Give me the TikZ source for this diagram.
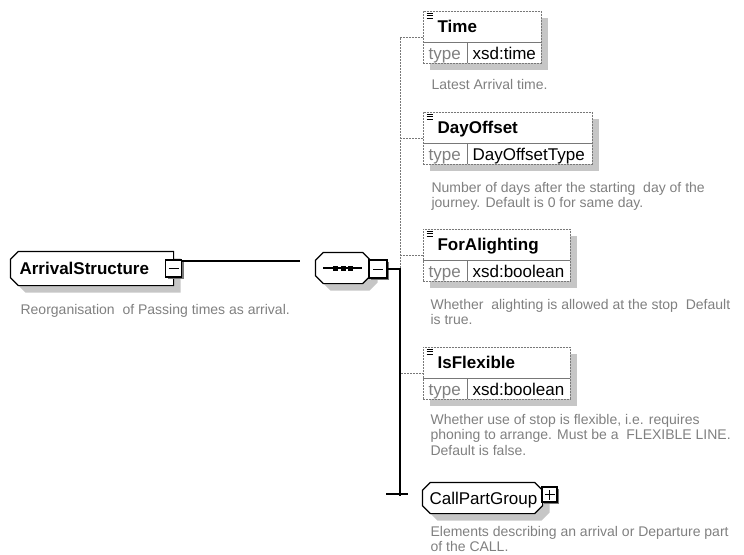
\documentclass[tikz,border=0pt]{standalone}
\usepackage{fontspec}
\setmainfont{Liberation Sans}
\usetikzlibrary{shadows}
\definecolor{boxgray}{RGB}{120,120,120}
\definecolor{txtgray}{RGB}{128,128,128}
\definecolor{shadegray}{RGB}{198,198,198}
\begin{document}
\begin{tikzpicture}[x=1pt,y=-1pt,line width=1.2pt,
 font=\fontsize{17}{20}\selectfont,
 boxshadow/.style={drop shadow={shadow xshift=7pt,shadow yshift=-7pt,fill=shadegray,opacity=1}},
 btnshadow/.style={drop shadow={shadow xshift=2pt,shadow yshift=-2pt,fill=boxgray,opacity=1}},
 area/.style={inner sep=0},
 cplxline/.style={draw,fill=white,boxshadow},
 elem/.style={draw=boxgray,dash pattern=on 2pt off 1pt,line width=.8pt,fill=white,
  inner sep=0,minimum height=52pt,anchor=north west,boxshadow},
 rowline/.style={draw=boxgray,line width=.8pt},
 optline/.style={draw=boxgray,dash pattern=on 2pt off 1pt,line width=.8pt},
 btn/.style={draw,fill=white,inner sep=0,minimum width=16pt,minimum height=17pt,btnshadow},
 hdr/.style={anchor=base west,inner sep=0,font=\bfseries\fontsize{17}{20}\selectfont},
 lbl/.style={anchor=base west,inner sep=0},
 typelbl/.style={anchor=base west,inner sep=0,text=txtgray},
 desc/.style={anchor=north west,inner sep=0,align=left,text=txtgray,
  font=\fontsize{14}{15.5}\selectfont}]
\useasboundingbox (0,0) rectangle (744,554);
% ArrivalStructure
\node[area,minimum width=162pt,minimum height=33pt] (arr) at (92,268.5) {};
\path[cplxline] ([xshift=8pt]arr.north west) -- (arr.north east) -- (arr.south east)
 -- ([xshift=8pt]arr.south west) -- ([yshift=8pt]arr.south west)
 -- ([yshift=-8pt]arr.north west) -- cycle;
\node[hdr] (arrname) at (19,274.6) {ArrivalStructure};
\node[btn] (arrbtn) at (173.5,268.5) {};
\draw[line width=1pt] ([xshift=-5pt]arrbtn.center) -- ([xshift=5pt]arrbtn.center);
\node[desc] (arrdesc) at (20,303.5) {Reorganisation~ of Passing times as arrival.};
\coordinate (arrend) at (300,261);
\draw (arrbtn.east |- arrend) -- (arrend);
% sequence
\node[area,minimum width=54pt,minimum height=30pt] (seq) at (343,268) {};
\path[cplxline] ([xshift=8pt]seq.north west) -- ([xshift=-8pt]seq.north east)
 -- ([yshift=-8pt]seq.north east) -- ([yshift=8pt]seq.south east)
 -- ([xshift=-8pt]seq.south east) -- ([xshift=8pt]seq.south west)
 -- ([yshift=8pt]seq.south west) -- ([yshift=-8pt]seq.north west) -- cycle;
\draw (323,268) -- (362,268);
\fill (333,265.5) rectangle +(5,5);
\fill (340.5,265.5) rectangle +(5,5);
\fill (348,265.5) rectangle +(5,5);
\node[btn,minimum width=18pt,minimum height=18pt] (seqbtn) at (378,269) {};
\draw[line width=1pt] ([xshift=-5pt]seqbtn.center) -- ([xshift=5pt]seqbtn.center);
\coordinate (spine) at (400,269);
\coordinate (spineend) at (400,496);
% Time
\begin{scope}[shift={(423,11)}]
  \node[elem,minimum width=118pt] (time) at (0,0) {};
  \draw[rowline] (0,31) -- (118,31);
  \draw[rowline] (44,31) -- (44,52);
  \draw[line width=1pt] (3.5,2.5) -- (10,2.5) (3.5,4.8) -- (10,4.8) (3.5,7.1) -- (10,7.1);
  \node[hdr] (timename) at (14,21.5) {Time};
  \node[typelbl] (timelbl) at (5,48) {type};
  \node[lbl] (timetype) at (49,48) {xsd:time};
  \node[desc] (timedesc) at (8,67.5) {Latest Arrival time.};
\end{scope}
% DayOffset
\begin{scope}[shift={(423,112)}]
  \node[elem,minimum width=169pt] (day) at (0,0) {};
  \draw[rowline] (0,31) -- (169,31);
  \draw[rowline] (44,31) -- (44,52);
  \draw[line width=1pt] (3.5,2.5) -- (10,2.5) (3.5,4.8) -- (10,4.8) (3.5,7.1) -- (10,7.1);
  \node[hdr] (dayname) at (14,21.5) {DayOffset};
  \node[typelbl] (daylbl) at (5,48) {type};
  \node[lbl] (daytype) at (49,48) {DayOffsetType};
  \node[desc] (daydesc) at (8,69.5) {Number of days after the starting~ day of the\\journey. Default is 0 for same day.};
\end{scope}
% ForAlighting
\begin{scope}[shift={(423,229)}]
  \node[elem,minimum width=147pt] (alight) at (0,0) {};
  \draw[rowline] (0,31) -- (147,31);
  \draw[rowline] (44,31) -- (44,52);
  \draw[line width=1pt] (3.5,2.5) -- (10,2.5) (3.5,4.8) -- (10,4.8) (3.5,7.1) -- (10,7.1);
  \node[hdr] (alightname) at (14,21.5) {ForAlighting};
  \node[typelbl] (alightlbl) at (5,48) {type};
  \node[lbl] (alighttype) at (49,48) {xsd:boolean};
  \node[desc] (alightdesc) at (7,69.5) {Whether~ alighting is allowed at the stop~ Default\\is true.};
\end{scope}
% IsFlexible
\begin{scope}[shift={(423,347)}]
  \node[elem,minimum width=147pt] (flex) at (0,0) {};
  \draw[rowline] (0,31) -- (147,31);
  \draw[rowline] (44,31) -- (44,52);
  \draw[line width=1pt] (3.5,2.5) -- (10,2.5) (3.5,4.8) -- (10,4.8) (3.5,7.1) -- (10,7.1);
  \node[hdr] (flexname) at (14,21.5) {IsFlexible};
  \node[typelbl] (flexlbl) at (5,48) {type};
  \node[lbl] (flextype) at (49,48) {xsd:boolean};
  \node[desc] (flexdesc) at (7,66.5) {Whether use of stop is flexible, i.e. requires\\phoning to arrange. Must be a~ FLEXIBLE LINE.\\Default is false.};
\end{scope}
% CallPartGroup
\node[area,minimum width=119pt,minimum height=30pt] (cpg) at (482.5,498) {};
\path[cplxline] ([xshift=8pt]cpg.north west) -- ([xshift=-8pt]cpg.north east)
 -- ([yshift=-8pt]cpg.north east) -- ([yshift=8pt]cpg.south east)
 -- ([xshift=-8pt]cpg.south east) -- ([xshift=8pt]cpg.south west)
 -- ([yshift=8pt]cpg.south west) -- ([yshift=-8pt]cpg.north west) -- cycle;
\node[lbl] (cpgname) at (429,504) {CallPartGroup};
\node[btn,minimum width=15pt,minimum height=15pt] (cpgbtn) at (549.5,494.5) {};
\draw[line width=1pt] ([xshift=-5pt]cpgbtn.center) -- ([xshift=5pt]cpgbtn.center)
 ([yshift=-5pt]cpgbtn.center) -- ([yshift=5pt]cpgbtn.center);
\node[desc] (cpgdesc) at (430,525.5) {Elements describing an arrival or Departure part\\of the CALL.};
% connectors
\draw[optline] (time.west) -- (time.west -| spine) -- (flex.west -| spine) -- (flex.west);
\draw[optline] (day.west -| spine) -- (day.west);
\draw[optline] (alight.west -| spine) -- (alight.west);
\draw (seqbtn.east) -- (spine) -- (spineend);
\coordinate (tickl) at (386,494);
\coordinate (tickr) at (408,494);
\draw (tickl) -- (tickr);
\end{tikzpicture}
\end{document}
